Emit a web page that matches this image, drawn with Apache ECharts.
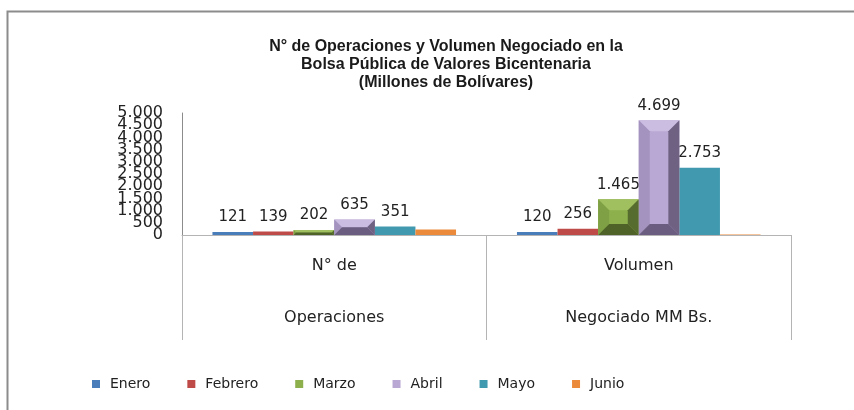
<!DOCTYPE html>
<html>
<head>
<meta charset="utf-8">
<script src="https://cdn.jsdelivr.net/npm/echarts@6/dist/echarts.min.js"></script>
<style>
  html, body { margin: 0; padding: 0; background: #fff; }
  #chart { width: 854px; height: 410px; }
</style>
</head>
<body>
<div id="chart"></div>
<script>
const categorias = ['N° de\nOperaciones', 'Volumen\nNegociado MM Bs.'];
const meses = ['Enero', 'Febrero', 'Marzo', 'Abril', 'Mayo', 'Junio'];
const enero = [121, 120];
const febrero = [139, 256];
const marzo = [202, 1465];
const abril = [635, 4699];
const mayo = [351, 2753];
const junio = [230, 20];
const etiquetasJunio = false;
const ejeMax = 5000;
const ejePaso = 500;

const colores = ['#4A7EBB', '#BE4B48', '#8DB04D', '#B9A8D3', '#4199B0', '#EC8A3C'];
// bandas del bisel: arriba, izquierda, derecha, abajo
const biselMarzo = ['#A0C060', '#7FA044', '#566B2E', '#4F6228'];
const biselAbril = ['#CBBDE1', '#A393BE', '#6E6182', '#6B5D7F'];

const fuente = 'DejaVu Sans';

function miles(v) {
  return String(Math.round(v)).replace(/\B(?=(\d{3})+(?!\d))/g, '.');
}

function serieBarra(nombre, datos, idx, conEtiqueta) {
  return {
    name: nombre,
    type: 'bar',
    data: datos,
    barGap: '0%',
    barCategoryGap: '20%',
    itemStyle: { color: colores[idx] },
    label: {
      show: conEtiqueta,
      position: 'top',
      distance: 7,
      fontFamily: fuente,
      fontSize: 15,
      color: '#222',
      formatter: p => miles(p.value)
    }
  };
}

function serieBisel(datos, k, bandas) {
  return {
    type: 'custom',
    name: 'bisel' + k,
    silent: true,
    z: 5,
    data: datos.map((v, i) => [i, v]),
    encode: { x: 0, y: 1 },
    renderItem: function (params, api) {
      const ci = api.value(0);
      const v = api.value(1);
      const base = api.coord([ci, 0]);
      const top = api.coord([ci, v]);
      const band = api.size([1, 0])[0];
      const bw = band * 0.8 / 6;
      const x0 = base[0] - band * 0.4 + k * bw;
      const x1 = x0 + bw;
      const y0 = top[1];
      const y1 = base[1];
      const b = Math.min(11, bw / 2, (y1 - y0) / 2);
      const poly = (pts, c) => ({ type: 'polygon', shape: { points: pts }, style: { fill: c } });
      return {
        type: 'group',
        children: [
          poly([[x0, y0], [x1, y0], [x1 - b, y0 + b], [x0 + b, y0 + b]], bandas[0]),
          poly([[x0, y0], [x0 + b, y0 + b], [x0 + b, y1 - b], [x0, y1]], bandas[1]),
          poly([[x1, y0], [x1, y1], [x1 - b, y1 - b], [x1 - b, y0 + b]], bandas[2]),
          poly([[x0, y1], [x1, y1], [x1 - b, y1 - b], [x0 + b, y1 - b]], bandas[3])
        ]
      };
    }
  };
}

const etiquetaY = {
  margin: 19,
  hideOverlap: false,
  fontFamily: fuente,
  fontSize: 16,
  color: '#222',
  formatter: v => miles(v)
};

const chart = echarts.init(document.getElementById('chart'));

chart.setOption({
  animation: false,
  backgroundColor: '#fff',
  graphic: [{
    type: 'rect',
    shape: { x: 7.5, y: 11.5, width: 900, height: 500 },
    style: { fill: 'none', stroke: '#8c8c8c', lineWidth: 2 },
    silent: true
  }],
  title: {
    text: 'N° de Operaciones y Volumen Negociado en la\nBolsa Pública de Valores Bicentenaria\n(Millones de Bolívares)',
    left: 441,
    top: 33,
    textAlign: 'center',
    textStyle: {
      fontFamily: 'Liberation Sans',
      fontWeight: 'bold',
      fontSize: 16,
      lineHeight: 18,
      color: '#1a1a1a'
    }
  },
  legend: {
    data: meses,
    left: 87,
    top: 372,
    icon: 'rect',
    itemWidth: 8,
    itemHeight: 8,
    itemGap: 37,
    textStyle: { fontFamily: fuente, fontSize: 14, color: '#222', padding: [0, 0, 0, 5] }
  },
  grid: { left: 182, right: 63, top: 113, bottom: 175 },
  xAxis: {
    type: 'category',
    data: categorias,
    axisLine: { lineStyle: { color: '#b4b4b4' } },
    axisTick: { show: true, length: 105, lineStyle: { color: '#b4b4b4' } },
    axisLabel: {
      interval: 0,
      margin: 5,
      fontFamily: fuente,
      fontSize: 16,
      lineHeight: 52,
      color: '#222'
    }
  },
  yAxis: [{
    type: 'value',
    min: 0,
    max: ejeMax,
    interval: ejePaso,
    splitLine: { show: false },
    axisLine: { show: true, lineStyle: { color: '#8c8c8c' } },
    axisTick: { show: false },
    axisLabel: Object.assign({ showMinLabel: false, showMaxLabel: false }, etiquetaY)
  }, {
    // solo 0 y 5.000, que el eje principal oculta por solaparse
    type: 'value',
    position: 'left',
    min: 0,
    max: ejeMax,
    interval: ejeMax,
    splitLine: { show: false },
    axisLine: { show: false },
    axisTick: { show: false },
    axisLabel: etiquetaY
  }],
  series: [
    serieBarra('Enero', enero, 0, true),
    serieBarra('Febrero', febrero, 1, true),
    serieBarra('Marzo', marzo, 2, true),
    serieBarra('Abril', abril, 3, true),
    serieBarra('Mayo', mayo, 4, true),
    serieBarra('Junio', junio, 5, etiquetasJunio),
    serieBisel(marzo, 2, biselMarzo),
    serieBisel(abril, 3, biselAbril)
  ]
});
</script>
</body>
</html>
